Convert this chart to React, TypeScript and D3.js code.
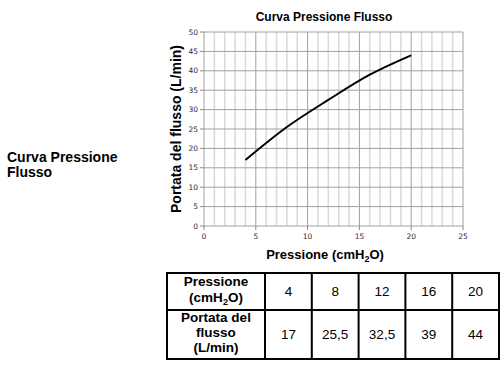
import React from 'react';
import * as d3 from 'd3';

const pressione = [4, 8, 12, 16, 20];
const portata = [17, 25.5, 32.5, 39, 44];
const portataLabels = ['17', '25,5', '32,5', '39', '44'];
const xTicks = [0, 5, 10, 15, 20, 25];
const yTicks = [0, 5, 10, 15, 20, 25, 30, 35, 40, 45, 50];

const W = 500;
const H = 370;
const AR = "'Liberation Sans', Arial, sans-serif";
const DV = "'DejaVu Sans', Verdana, sans-serif";

export default function App() {
  const x = d3.scaleLinear().domain([0, 25]).range([204, 463]);
  const y = d3.scaleLinear().domain([0, 50]).range([226, 32]);

  const line = d3.line<number>()
    .x((_, i) => x(pressione[i]))
    .y(d => y(d))
    .curve(d3.curveMonotoneX);

  const minor = d3.range(1, 25).filter(v => v % 5 !== 0);

  // table geometry
  const tx0 = 167, tx1 = 265, tx2 = 499;
  const ty0 = 273, ty1 = 310, ty2 = 359;
  const colW = (tx2 - tx1) / pressione.length;
  const c0 = (tx0 + tx1) / 2;

  return (
    <svg width={W} height={H} style={{ position: 'absolute', left: 0, top: 0, background: '#fff' }}>
      {/* left caption */}
      <text x={7} y={162} fontFamily={AR} fontWeight="bold" fontSize={14}>Curva Pressione</text>
      <text x={7} y={177} fontFamily={AR} fontWeight="bold" fontSize={14}>Flusso</text>

      {/* title */}
      <text x={324} y={21} textAnchor="middle" fontFamily={AR} fontWeight="bold" fontSize={12}>
        Curva Pressione Flusso
      </text>

      {/* grid */}
      {minor.map(v => (
        <line key={'m' + v} x1={x(v)} x2={x(v)} y1={y(50)} y2={y(0)} stroke="#d9d9d9" strokeWidth={1.5} />
      ))}
      {yTicks.map(v => (
        <line key={'h' + v} x1={x(0)} x2={x(25)} y1={y(v)} y2={y(v)} stroke="#a0a0a0" strokeWidth={1} />
      ))}
      {xTicks.map(v => (
        <line key={'v' + v} x1={x(v)} x2={x(v)} y1={y(50)} y2={y(0)} stroke="#a0a0a0" strokeWidth={1} />
      ))}

      {/* ticks */}
      {yTicks.map(v => (
        <g key={'yt' + v}>
          <line x1={x(0) - 4} x2={x(0)} y1={y(v)} y2={y(v)} stroke="#888" />
          <text x={x(0) - 6} y={y(v) + 2.5} textAnchor="end" fontFamily={DV} fontSize={7.5} fill="#2b2b3b">{v}</text>
        </g>
      ))}
      {xTicks.map(v => (
        <g key={'xt' + v}>
          <line x1={x(v)} x2={x(v)} y1={y(0)} y2={y(0) + 4} stroke="#888" />
          <text x={x(v)} y={y(0) + 13} textAnchor="middle" fontFamily={DV} fontSize={7.5} fill="#2b2b3b">{v}</text>
        </g>
      ))}

      {/* curve */}
      <path d={line(portata) || ''} fill="none" stroke="#000" strokeWidth={2} />

      {/* axis titles */}
      <text transform={`translate(181,${(y(0) + y(50)) / 2}) rotate(-90)`} textAnchor="middle"
        fontFamily={AR} fontWeight="bold" fontSize={14}>
        Portata del flusso (L/min)
      </text>
      <text x={325} y={259} textAnchor="middle" fontFamily={AR} fontWeight="bold" fontSize={13}>
        Pressione (cmH<tspan fontSize={9} dy={3}>2</tspan><tspan dy={-3}>O)</tspan>
      </text>

      {/* table */}
      <g fontFamily={AR} fontSize={13.5}>
        <rect x={tx0} y={ty0} width={tx2 - tx0} height={ty2 - ty0} fill="none" stroke="#000" strokeWidth={2} />
        <line x1={tx0} x2={tx2} y1={ty1} y2={ty1} stroke="#000" strokeWidth={2} />
        {pressione.map((_, i) => (
          <line key={'c' + i} x1={tx1 + i * colW} x2={tx1 + i * colW} y1={ty0} y2={ty2} stroke="#000" strokeWidth={2} />
        ))}
        <text x={c0} y={286} textAnchor="middle" fontWeight="bold">Pressione</text>
        <text x={c0} y={301.5} textAnchor="middle" fontWeight="bold">
          (cmH<tspan fontSize={9} dy={3}>2</tspan><tspan dy={-3}>O)</tspan>
        </text>
        <text x={c0} y={322} textAnchor="middle" fontWeight="bold">Portata del</text>
        <text x={c0} y={337} textAnchor="middle" fontWeight="bold">flusso</text>
        <text x={c0} y={352} textAnchor="middle" fontWeight="bold">(L/min)</text>
        {pressione.map((p, i) => (
          <text key={'p' + i} x={tx1 + (i + 0.5) * colW} y={296} textAnchor="middle">{p}</text>
        ))}
        {portataLabels.map((p, i) => (
          <text key={'q' + i} x={tx1 + (i + 0.5) * colW} y={339} textAnchor="middle">{p}</text>
        ))}
      </g>
    </svg>
  );
}
